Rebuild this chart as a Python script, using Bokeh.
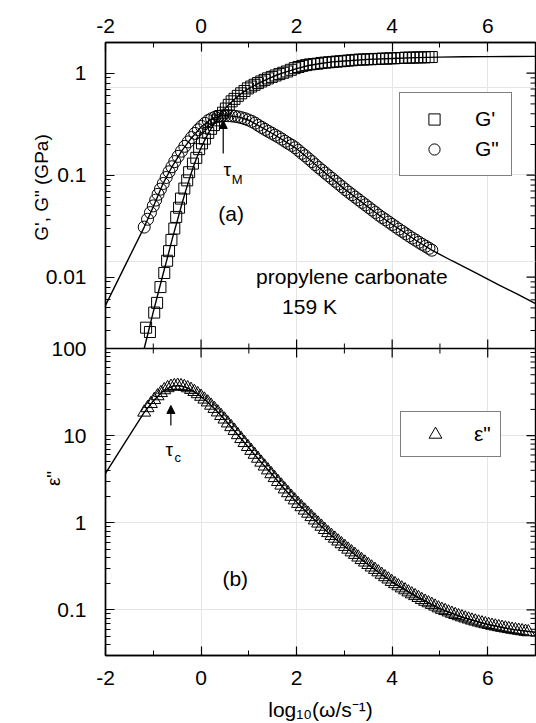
import math
from bokeh.plotting import figure
from bokeh.models import (Range1d, LogAxis, LinearAxis, FixedTicker, CustomJSTickFormatter,
                          Label, Arrow, NormalHead, Legend, LegendItem, LogScale, Span)
from bokeh.embed import file_html
from bokeh.resources import INLINE

# ---------------- data ----------------
# panel (a): storage modulus G' (GPa), squares
gp_x = [-1.15, -1.07, -0.98, -0.92, -0.85, -0.77, -0.71, -0.67, -0.62, -0.56, -0.52, -0.46,
        -0.42, -0.35, -0.29, -0.25, -0.17, -0.10, -0.04, 0.02, 0.08, 0.15, 0.21, 0.27, 0.33,
        0.40, 0.46, 0.52, 0.58, 0.64, 0.70, 0.77, 0.84, 0.91, 0.98, 1.05, 1.12, 1.19, 1.26,
        1.33, 1.40, 1.48, 1.56, 1.64, 1.72, 1.80, 1.88, 1.96, 2.04, 2.12, 2.20, 2.28, 2.36,
        2.44, 2.52, 2.60, 2.68, 2.76, 2.84, 2.92, 3.00, 3.08, 3.16, 3.24, 3.32, 3.40, 3.48,
        3.56, 3.64, 3.72, 3.80, 3.88, 3.96, 4.04, 4.12, 4.20, 4.28, 4.36, 4.44, 4.52, 4.60,
        4.68, 4.76, 4.83]
gp_y = [0.0032, 0.0029, 0.0045, 0.0056, 0.0080, 0.0110, 0.0145, 0.0180, 0.0232, 0.0300, 0.0390,
        0.0480, 0.0590, 0.0740, 0.0890, 0.107, 0.130, 0.148, 0.180, 0.205, 0.228, 0.260, 0.285,
        0.310, 0.345, 0.380, 0.410, 0.450, 0.490, 0.530, 0.560, 0.600, 0.635, 0.670, 0.710,
        0.740, 0.770, 0.800, 0.830, 0.860, 0.890, 0.920, 0.950, 0.980, 1.01, 1.04, 1.08, 1.12,
        1.15, 1.18, 1.20, 1.22, 1.23, 1.24, 1.26, 1.27, 1.28, 1.29, 1.30, 1.31, 1.32, 1.33,
        1.34, 1.35, 1.36, 1.36, 1.37, 1.37, 1.38, 1.38, 1.39, 1.39, 1.40, 1.40, 1.41, 1.41,
        1.42, 1.42, 1.42, 1.43, 1.43, 1.43, 1.44, 1.44]
gp_fit_x = [-1.19, -1.10, -1.00, -0.90, -0.80, -0.70, -0.60, -0.50, -0.40, -0.30, -0.20, -0.10,
            0.00, 0.10, 0.20, 0.30, 0.40, 0.50, 0.60, 0.70, 0.80, 0.90, 1.00, 1.20, 1.40, 1.60,
            1.80, 2.00, 2.25, 2.50, 2.75, 3.00, 3.50, 4.00, 4.50, 5.00, 5.50, 6.00, 6.50, 7.00]
gp_fit_y = [0.0020, 0.00295, 0.00457, 0.00692, 0.0105, 0.0158, 0.0240, 0.0355, 0.0525, 0.0759,
            0.107, 0.145, 0.186, 0.232, 0.282, 0.335, 0.389, 0.447, 0.501, 0.556, 0.610, 0.661,
            0.708, 0.794, 0.881, 0.966, 1.035, 1.109, 1.19, 1.245, 1.29, 1.318, 1.365, 1.396,
            1.422, 1.439, 1.449, 1.455, 1.459, 1.462]

# panel (a): loss modulus G'' (GPa), circles
gpp_x = [-1.19, -1.12, -1.06, -1.00, -0.95, -0.90, -0.85, -0.79, -0.73, -0.67, -0.61, -0.55,
         -0.48, -0.41, -0.34, -0.27, -0.20, -0.13, -0.06, 0.01, 0.08, 0.15, 0.22, 0.29, 0.36,
         0.43, 0.50, 0.57, 0.64, 0.71, 0.78, 0.85, 0.92, 0.99, 1.06, 1.13, 1.20, 1.27, 1.34,
         1.41, 1.48, 1.55, 1.62, 1.69, 1.76, 1.83, 1.90, 1.97, 2.04, 2.11, 2.18, 2.25, 2.32,
         2.39, 2.46, 2.53, 2.60, 2.67, 2.74, 2.81, 2.88, 2.95, 3.02, 3.09, 3.16, 3.23, 3.30,
         3.37, 3.44, 3.51, 3.58, 3.65, 3.72, 3.79, 3.86, 3.93, 4.00, 4.07, 4.14, 4.21, 4.28,
         4.35, 4.42, 4.49, 4.56, 4.63, 4.70, 4.77, 4.83]
gpp_y = [0.031, 0.037, 0.043, 0.050, 0.057, 0.065, 0.073, 0.083, 0.095, 0.108, 0.121, 0.136,
         0.153, 0.172, 0.192, 0.212, 0.234, 0.257, 0.279, 0.301, 0.322, 0.343, 0.358, 0.370,
         0.377, 0.382, 0.384, 0.383, 0.381, 0.378, 0.373, 0.366, 0.358, 0.348, 0.337, 0.324,
         0.308, 0.294, 0.281, 0.269, 0.258, 0.247, 0.237, 0.226, 0.215, 0.205, 0.196, 0.186,
         0.175, 0.164, 0.155, 0.145, 0.136, 0.127, 0.119, 0.112, 0.105, 0.0988, 0.0929, 0.0873,
         0.0820, 0.0771, 0.0724, 0.0682, 0.0644, 0.0608, 0.0574, 0.0542, 0.0512, 0.0483, 0.0456,
         0.0431, 0.0406, 0.0385, 0.0366, 0.0347, 0.0329, 0.0312, 0.0296, 0.0282, 0.0267, 0.0254,
         0.0242, 0.0231, 0.0220, 0.0210, 0.0201, 0.0192, 0.0184]
gpp_fit_x = [-2.00, -1.60, -1.19, -1.00, -0.80, -0.60, -0.40, -0.20, 0.00, 0.20, 0.40, 0.50, 0.60,
             0.80, 1.00, 1.25, 1.50, 1.75, 2.00, 2.25, 2.50, 2.75, 3.00, 3.25, 3.50, 3.75, 4.00,
             4.25, 4.50, 4.83, 5.25, 5.75, 6.25, 6.60, 7.00]
gpp_fit_y = [0.0053, 0.0127, 0.031, 0.049, 0.082, 0.123, 0.174, 0.232, 0.297, 0.352, 0.380, 0.384,
             0.382, 0.371, 0.346, 0.298, 0.255, 0.216, 0.182, 0.146, 0.115, 0.092, 0.0735, 0.0598,
             0.0487, 0.0398, 0.0329, 0.0276, 0.0229, 0.0184, 0.0145, 0.0110, 0.0083, 0.0069, 0.0055]

# panel (b): dielectric loss eps'', triangles
eps_x = [-1.19, -1.12, -1.05, -0.98, -0.91, -0.84, -0.77, -0.70, -0.63, -0.56, -0.49, -0.42,
         -0.35, -0.28, -0.21, -0.14, -0.07, 0.00, 0.07, 0.14, 0.21, 0.28, 0.35, 0.42, 0.49, 0.56,
         0.63, 0.70, 0.77, 0.84, 0.91, 0.98, 1.05, 1.12, 1.19, 1.26, 1.33, 1.40, 1.47, 1.54,
         1.61, 1.68, 1.75, 1.82, 1.89, 1.96, 2.03, 2.10, 2.17, 2.24, 2.31, 2.38, 2.45, 2.52,
         2.59, 2.66, 2.73, 2.80, 2.87, 2.94, 3.01, 3.08, 3.15, 3.22, 3.29, 3.36, 3.43, 3.50,
         3.57, 3.64, 3.71, 3.78, 3.85, 3.92, 3.99, 4.06, 4.13, 4.20, 4.27, 4.34, 4.41, 4.48,
         4.55, 4.62, 4.69, 4.76, 4.83, 4.90, 4.97, 5.04, 5.11, 5.18, 5.25, 5.32, 5.39, 5.46,
         5.53, 5.60, 5.67, 5.74, 5.81, 5.88, 5.95, 6.02, 6.09, 6.16, 6.23, 6.30, 6.37, 6.44,
         6.51, 6.58, 6.65, 6.72, 6.79, 6.85]
eps_y = [18.5, 20.8, 23.2, 25.8, 28.5, 31.0, 33.4, 35.3, 36.6, 37.3, 37.6, 37.2, 36.4, 35.2, 33.7,
         31.9, 30.1, 28.1, 26.1, 24.2, 22.2, 20.4, 18.6, 16.9, 15.4, 13.9, 12.6, 11.4, 10.2, 9.20,
         8.28, 7.46, 6.73, 6.07, 5.47, 4.93, 4.45, 4.02, 3.63, 3.28, 2.96, 2.69, 2.43, 2.20, 2.00,
         1.82, 1.66, 1.52, 1.39, 1.28, 1.17, 1.07, 0.986, 0.906, 0.832, 0.766, 0.711, 0.661,
         0.614, 0.571, 0.532, 0.495, 0.461, 0.431, 0.402, 0.376, 0.352, 0.330, 0.309, 0.290,
         0.272, 0.255, 0.239, 0.225, 0.211, 0.199, 0.188, 0.178, 0.169, 0.160, 0.152, 0.145,
         0.138, 0.131, 0.125, 0.120, 0.115, 0.110, 0.105, 0.101, 0.0977, 0.0942, 0.0910, 0.0881,
         0.0853, 0.0828, 0.0804, 0.0782, 0.0760, 0.0741, 0.0723, 0.0706, 0.0690, 0.0676, 0.0662,
         0.0650, 0.0638, 0.0627, 0.0617, 0.0607, 0.0597, 0.0589, 0.0581, 0.0573, 0.0565, 0.0558]
eps_fit_x = [-2.00, -1.60, -1.19, -1.00, -0.80, -0.60, -0.45, -0.30, -0.10, 0.10, 0.30, 0.50,
             0.75, 1.00, 1.25, 1.50, 1.75, 2.00, 2.25, 2.50, 2.75, 3.00, 3.25, 3.50, 3.75, 4.00,
             4.25, 4.50, 4.75, 5.00, 5.50, 6.00, 6.50, 7.00]
eps_fit_y = [3.69, 8.2, 18.5, 25.0, 32.3, 37.0, 37.5, 35.6, 30.9, 25.3, 19.9, 15.2, 10.5, 7.25,
             5.00, 3.53, 2.43, 1.73, 1.26, 0.929, 0.697, 0.537, 0.418, 0.330, 0.262, 0.209, 0.173,
             0.143, 0.121, 0.103, 0.0814, 0.0680, 0.0599, 0.0555]

# axis ticks
x_major = [-2, 0, 2, 4, 6]
x_minor = [-1, 1, 3, 5, 7]
g_major = [0.01, 0.1, 1]
g_minor = [0.003, 0.004, 0.005, 0.006, 0.007, 0.008, 0.009,
           0.02, 0.03, 0.04, 0.05, 0.06, 0.07, 0.08, 0.09,
           0.2, 0.3, 0.4, 0.5, 0.6, 0.7, 0.8, 0.9, 2]
e_major = [0.1, 1, 10, 100]
e_minor = [0.04, 0.05, 0.06, 0.07, 0.08, 0.09,
           0.2, 0.3, 0.4, 0.5, 0.6, 0.7, 0.8, 0.9,
           2, 3, 4, 5, 6, 7, 8, 9,
           20, 30, 40, 50, 60, 70, 80, 90]

# ---------------- layout of the two stacked panels ----------------
FONT = "Liberation Sans"
X_LO, X_HI = -2, 7
G_LO, G_HI = 0.002, 2.0
E_LO, E_HI = 0.03, 100.0
TOP_PX, BOT_PX = 306, 307
e_dpp = math.log10(E_HI / E_LO) / BOT_PX
g_dpp = math.log10(G_HI / G_LO) / TOP_PX
e_end = E_HI * 10 ** (TOP_PX * e_dpp)
g_start = G_LO / 10 ** (BOT_PX * g_dpp)


def g2e_px(v):
    px_above = (math.log10(v) - math.log10(G_LO)) / g_dpp
    return 10 ** (math.log10(E_HI) + px_above * e_dpp)


p = figure(width=536, height=723, x_range=Range1d(X_LO, X_HI), y_range=Range1d(E_LO, e_end),
           y_axis_type="log", x_axis_location=None, y_axis_location=None,
           output_backend="svg", toolbar_location=None,
           min_border_left=104, min_border_right=1, min_border_top=42, min_border_bottom=68)
p.extra_y_ranges = {"g": Range1d(g_start, G_HI)}
p.extra_y_scales = {"g": LogScale()}
p.background_fill_color = "white"
p.border_fill_color = "white"
p.outline_line_color = "black"
p.outline_line_width = 1.4


def style(ax):
    ax.major_tick_in = 9
    ax.major_tick_out = 0
    ax.minor_tick_in = 5
    ax.minor_tick_out = 0
    ax.axis_line_color = "black"
    ax.axis_line_width = 1.4
    ax.major_tick_line_width = 1.2
    ax.minor_tick_line_width = 1.0
    ax.major_label_text_font = FONT
    ax.major_label_text_font_size = "21px"
    ax.major_label_text_color = "black"


left_ticks = e_major + [g2e_px(v) for v in g_major]
left_minor = e_minor + [g2e_px(v) for v in g_minor]
fmt = CustomJSTickFormatter(args=dict(etop=math.log10(E_HI), glo=math.log10(G_LO),
                                      ratio=e_dpp / g_dpp), code="""
const lt = Math.log10(tick);
let n;
if (lt <= etop + 1e-6) { n = Math.round(lt); }
else { n = Math.round((lt - etop) / ratio + glo); }
const v = Math.pow(10, n);
return n >= 0 ? v.toFixed(0) : v.toFixed(-n);
""")
yax = LogAxis(ticker=FixedTicker(ticks=left_ticks, minor_ticks=left_minor), formatter=fmt)
style(yax)
yax.major_label_standoff = 19
p.add_layout(yax, "left")

xfmt = CustomJSTickFormatter(code="return tick.toFixed(0);")
xtop = LinearAxis(ticker=FixedTicker(ticks=x_major, minor_ticks=x_minor), formatter=xfmt)
style(xtop)
xtop.major_label_standoff = 10
p.add_layout(xtop, "above")

xbot = LinearAxis(ticker=FixedTicker(ticks=x_major, minor_ticks=x_minor), formatter=xfmt,
                  axis_label="log\u2081\u2080(\u03c9/s\u207b\u00b9)")
style(xbot)
xbot.major_label_standoff = 15
xbot.axis_label_standoff = 10
xbot.axis_label_text_font = FONT
xbot.axis_label_text_font_size = "21px"
xbot.axis_label_text_font_style = "normal"
xbot.axis_label_text_color = "black"
p.add_layout(xbot, "below")

# y-axis titles: placed in the left side panel (screen units from each slot's bottom-left)
p.add_layout(Label(x=20, y=468, x_units="screen", y_units="screen", text="G', G\" (GPa)",
                   angle=math.pi / 2, text_font=FONT, text_font_size="19px", text_color="black",
                   text_align="center", text_baseline="middle"), "left")
p.add_layout(Label(x=53, y=177, x_units="screen", y_units="screen", text='\u03b5"',
                   angle=math.pi / 2, text_font=FONT, text_font_size="19px", text_color="black",
                   text_align="center", text_baseline="middle"), "left")

# divider between panels and its tick marks
p.add_layout(Span(location=E_HI, dimension="width", line_color="black", line_width=1.4))
p.scatter([v for v in x_major if v > X_LO], [E_HI] * 4, marker="dash", angle=math.pi / 2,
          size=18, line_color="black", line_width=1.2)
p.scatter(x_minor[:-1], [E_HI] * 4, marker="dash", angle=math.pi / 2,
          size=10, line_color="black", line_width=1.0)
# right-hand ticks (mirror)
p.scatter([X_HI] * len(e_major), e_major, marker="dash", size=18, line_color="black", line_width=1.2)
p.scatter([X_HI] * len(e_minor), e_minor, marker="dash", size=10, line_color="black", line_width=1.0)
p.scatter([X_HI] * len(g_major), g_major, marker="dash", size=18, line_color="black",
          line_width=1.2, y_range_name="g")
p.scatter([X_HI] * len(g_minor), g_minor, marker="dash", size=10, line_color="black",
          line_width=1.0, y_range_name="g")

# data
sq = p.scatter(gp_x, gp_y, marker="square", size=11, fill_color=None, line_color="black",
               line_width=1.0, y_range_name="g")
ci = p.scatter(gpp_x, gpp_y, marker="circle", size=12, fill_color=None, line_color="black",
               line_width=1.0, y_range_name="g")
tr = p.scatter(eps_x, eps_y, marker="triangle", size=13, fill_color=None, line_color="black",
               line_width=1.0)
p.line(gp_fit_x, gp_fit_y, line_color="black", line_width=1.4, y_range_name="g")
p.line(gpp_fit_x, gpp_fit_y, line_color="black", line_width=1.4, y_range_name="g")
p.line(eps_fit_x, eps_fit_y, line_color="black", line_width=1.4)

# legends
leg_a = Legend(items=[LegendItem(label="G'", renderers=[sq]), LegendItem(label='G"', renderers=[ci])],
               location=(294, 479), glyph_width=44, glyph_height=28, label_height=28,
               label_standoff=19, padding=12, spacing=2, border_line_color="black",
               border_line_width=1.2, background_fill_color="white", background_fill_alpha=1,
               label_text_font=FONT, label_text_font_size="21px", label_text_color="black")
leg_b = Legend(items=[LegendItem(label='\u03b5"', renderers=[tr])],
               location=(295, 198), glyph_width=56, glyph_height=32, label_height=32,
               label_standoff=11, padding=6, spacing=0, border_line_color="black",
               border_line_width=1.2, background_fill_color="white", background_fill_alpha=1,
               label_text_font=FONT, label_text_font_size="21px", label_text_color="black")
p.add_layout(leg_a)
p.add_layout(leg_b)


def lab(x, y, text, size="21px", rng="default", align="center", base="middle", **kw):
    p.add_layout(Label(x=x, y=y, text=text, y_range_name=rng, text_font=FONT,
                       text_font_size=size, text_color="black", text_align=align,
                       text_baseline=base, **kw))


# annotations
lab(0.631, 0.0421, "(a)", rng="g")
lab(0.715, 0.230, "(b)")
lab(3.156, 0.0102, "propylene carbonate", rng="g")
lab(2.27, 0.00512, "159 K", rng="g")
lab(0.548, 0.1146, "\u03c4", size="19px", rng="g")
lab(0.756, 0.0902, "M", size="13px", rng="g")
lab(-0.664, 6.95, "\u03c4", size="19px")
lab(-0.486, 5.62, "c", size="13px")

p.add_layout(Arrow(end=NormalHead(size=8, fill_color="black", line_color="black"),
                   x_start=0.464, y_start=0.163, x_end=0.464, y_end=0.344,
                   y_range_name="g", line_color="black", line_width=1.2))
p.add_layout(Arrow(end=NormalHead(size=8, fill_color="black", line_color="black"),
                   x_start=-0.632, y_start=13.1, x_end=-0.632, y_end=22.2,
                   line_color="black", line_width=1.2))

open("out.html", "w").write(file_html(p, INLINE))
